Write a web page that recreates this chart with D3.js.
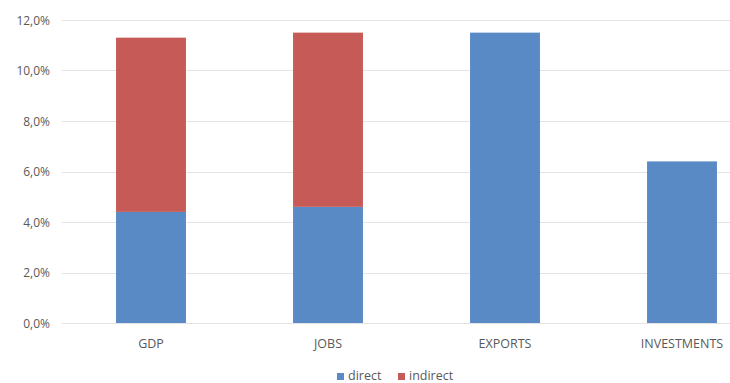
<!DOCTYPE html>
<html><head><meta charset="utf-8">
<script src="https://cdn.jsdelivr.net/npm/d3@7"></script>
<style>body{margin:0;background:#fff}svg{display:block}text{font-family:"Open Sans",sans-serif;fill:#595959}</style>
</head><body>
<svg id="c" width="730" height="383"></svg>
<script>
const categories = ["GDP", "JOBS", "EXPORTS", "INVESTMENTS"];
const direct = [4.4, 4.6, 11.5, 6.4];
const indirect = [6.9, 6.9, 0, 0];
const yTicks = [0, 2, 4, 6, 8, 10, 12];
const seriesNames = ["direct", "indirect"];
const colors = ["#5A8AC6", "#C65A57"];

const svg = d3.select("#c");
const x = d3.scaleBand().domain(categories).range([62.5, 770.5]).paddingInner(0.605).paddingOuter(0.3025);
const y = d3.scaleLinear().domain([0, 12]).range([323, 20]);

// gridlines
svg.append("g").selectAll("line").data(yTicks).join("line")
  .attr("x1", 62).attr("x2", 730)
  .attr("y1", d => Math.round(y(d)) + 0.5).attr("y2", d => Math.round(y(d)) + 0.5)
  .attr("stroke", "#e3e3e3").attr("stroke-width", 1);

// y labels
svg.append("g").selectAll("text").data(yTicks).join("text")
  .attr("x", 50).attr("y", d => y(d) + 4.5)
  .attr("text-anchor", "end").attr("font-size", 12)
  .text(d => d3.format(".1f")(d).replace(".", ",") + "%");

const rows = categories.map((c, i) => ({cat: c, direct: direct[i], indirect: indirect[i]}));
const stack = d3.stack().keys(seriesNames)(rows);
svg.append("g").selectAll("g").data(stack).join("g")
  .attr("fill", (d, i) => colors[i])
  .selectAll("rect").data(d => d.filter(p => p[1] > p[0])).join("rect")
  .attr("x", d => x(d.data.cat)).attr("width", x.bandwidth())
  .attr("y", d => y(d[1])).attr("height", d => y(d[0]) - y(d[1]));

// x labels
svg.append("g").selectAll("text").data(categories).join("text")
  .attr("x", d => x(d) + x.bandwidth() / 2).attr("y", 348)
  .attr("text-anchor", "middle").attr("font-size", 12.5)
  .text(d => d);

// legend
const leg = svg.append("g");
const legX = [337, 398];
seriesNames.forEach((n, i) => {
  leg.append("rect").attr("x", legX[i]).attr("y", 373).attr("width", 7).attr("height", 7).attr("fill", colors[i]);
  leg.append("text").attr("x", legX[i] + 11).attr("y", 379.5).attr("font-size", 12.5).text(n);
});
</script>
</body></html>
